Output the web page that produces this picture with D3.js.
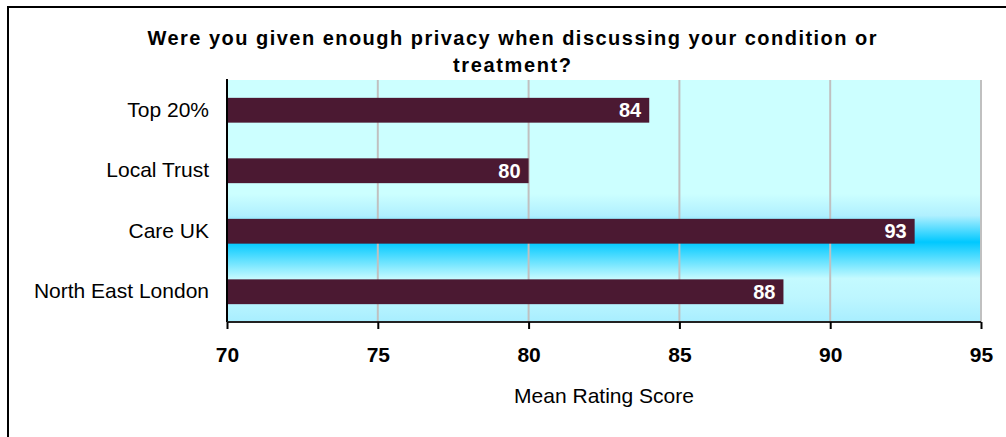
<!DOCTYPE html>
<html>
<head>
<meta charset="utf-8">
<script src="https://cdn.jsdelivr.net/npm/d3@7"></script>
<style>
  html, body { margin: 0; padding: 0; background: #fff; }
  svg { display: block; font-family: "Liberation Sans", Arial, sans-serif; }
</style>
</head>
<body>
<svg id="chart" width="1006" height="437"></svg>
<script>
const categories = ["Top 20%", "Local Trust", "Care UK", "North East London"];
const values = [84.0, 80.0, 92.8, 88.45];
const valueLabels = ["84", "80", "93", "88"];
const xTicks = [70, 75, 80, 85, 90, 95];
const titleLines = ["Were you given enough privacy when discussing your condition or", "treatment?"];
const xAxisTitle = "Mean Rating Score";

const svg = d3.select("#chart");
const W = 1006, H = 437;
const plot = { left: 227, right: 981, top: 80, bottom: 322 };

svg.append("rect").attr("width", W).attr("height", H).attr("fill", "#fff");
svg.append("rect").attr("x", 8).attr("y", 7).attr("width", 1100).attr("height", 600)
  .attr("fill", "none").attr("stroke", "#000").attr("stroke-width", 2);

const x = d3.scaleLinear().domain([70, 95]).range([plot.left, plot.right]);
const y = d3.scaleBand().domain(categories).range([plot.top, plot.bottom])
  .paddingInner(0.59).paddingOuter(0.295);

// gradient
const defs = svg.append("defs");
const grad = defs.append("linearGradient").attr("id", "bg")
  .attr("x1", 0).attr("y1", 0).attr("x2", 0).attr("y2", 1);
[[0, "#ccffff"], [0.47, "#ccffff"], [0.56, "#b0f0ff"], [0.67, "#00c8ff"],
 [0.82, "#c4faff"], [0.9, "#bdf6ff"], [1, "#a8eeff"]].forEach(([o, c]) =>
  grad.append("stop").attr("offset", o).attr("stop-color", c));

svg.append("rect").attr("x", plot.left).attr("y", plot.top)
  .attr("width", plot.right - plot.left).attr("height", plot.bottom - plot.top)
  .attr("fill", "url(#bg)");

// gridlines
svg.append("g").selectAll("line").data(xTicks.slice(1)).join("line")
  .attr("x1", d => x(d)).attr("x2", d => x(d))
  .attr("y1", plot.top).attr("y2", plot.bottom)
  .attr("stroke", "#c0c0c0").attr("stroke-width", 2);

// bars
svg.append("g").selectAll("rect").data(categories).join("rect")
  .attr("x", x(70)).attr("y", d => y(d))
  .attr("width", (d, i) => x(values[i]) - x(70))
  .attr("height", y.bandwidth())
  .attr("fill", "#4b1932");

// value labels
svg.append("g").selectAll("text").data(categories).join("text")
  .attr("x", (d, i) => x(values[i]) - 8)
  .attr("y", d => y(d) + y.bandwidth() / 2)
  .attr("dy", "0.36em")
  .attr("text-anchor", "end")
  .attr("fill", "#fff").attr("font-weight", "bold").attr("font-size", 20)
  .text((d, i) => valueLabels[i]);

// left axis
const yAxis = d3.axisLeft(y).tickSize(0).tickPadding(18);
const gy = svg.append("g").attr("transform", `translate(${plot.left},0)`).call(yAxis);
gy.select(".domain").attr("stroke", "#000").attr("stroke-width", 2)
  .attr("d", `M0,${plot.top - 1}V${plot.bottom}`);
gy.selectAll("text").attr("font-size", 21).attr("fill", "#000")
  .attr("font-family", "Liberation Sans, Arial, sans-serif");

// bottom axis
const xAxis = d3.axisBottom(x).tickValues(xTicks).tickSize(7).tickPadding(18).tickFormat(d3.format("d"));
const gx = svg.append("g").attr("transform", `translate(0,${plot.bottom})`).call(xAxis);
gx.select(".domain").attr("stroke", "#222").attr("stroke-width", 2)
  .attr("d", `M${plot.left},0H${plot.right}`);
gx.selectAll(".tick line").attr("stroke", "#000").attr("stroke-width", 2);
gx.selectAll("text").attr("font-size", 21).attr("font-weight", "bold").attr("fill", "#000")
  .attr("font-family", "Liberation Sans, Arial, sans-serif");

// axis title
svg.append("text").attr("x", (plot.left + plot.right) / 2).attr("y", 403)
  .attr("text-anchor", "middle").attr("font-size", 21).attr("fill", "#000")
  .text(xAxisTitle);

// title
svg.append("text").attr("x", 512).attr("y", 45)
  .attr("text-anchor", "middle").attr("font-size", 20).attr("font-weight", "bold")
  .attr("fill", "#000").attr("textLength", 729).attr("lengthAdjust", "spacing")
  .text(titleLines[0]);
svg.append("text").attr("x", 512).attr("y", 72)
  .attr("text-anchor", "middle").attr("font-size", 20).attr("font-weight", "bold")
  .attr("fill", "#000").attr("textLength", 118).attr("lengthAdjust", "spacing")
  .text(titleLines[1]);
</script>
</body>
</html>
